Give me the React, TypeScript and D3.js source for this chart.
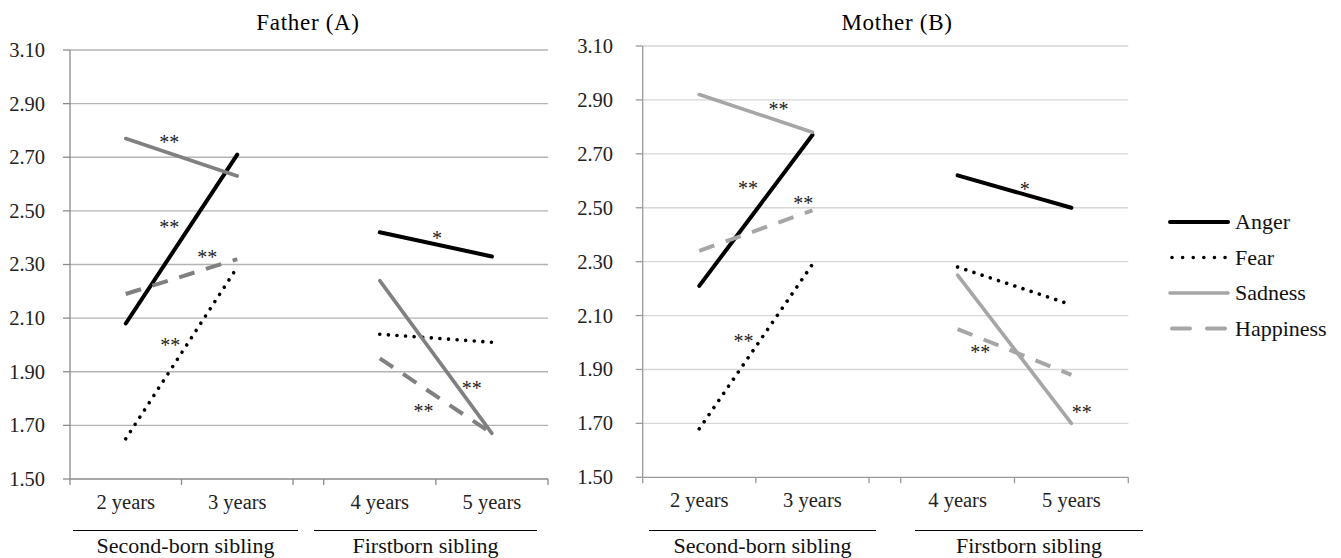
import React from "react";
import * as d3 from "d3";

// ---------- data ----------
const categories = ["2 years", "3 years", "4 years", "5 years"];
const groupLabels = ["Second-born sibling", "Firstborn sibling"];
const seriesNames = ["Anger", "Fear", "Sadness", "Happiness"];
const yTicks = [1.5, 1.7, 1.9, 2.1, 2.3, 2.5, 2.7, 2.9, 3.1];
const panelTitles = ["Father (A)", "Mother (B)"];

const fatherAnger = [2.08, 2.71, 2.42, 2.33];
const fatherFear = [1.65, 2.29, 2.04, 2.01];
const fatherSadness = [2.77, 2.63, 2.24, 1.67];
const fatherHappiness = [2.19, 2.32, 1.95, 1.67];

const motherAnger = [2.21, 2.77, 2.62, 2.5];
const motherFear = [1.68, 2.29, 2.28, 2.14];
const motherSadness = [2.92, 2.78, 2.25, 1.7];
const motherHappiness = [2.34, 2.49, 2.05, 1.88];

// significance marks: [group, position between the two ages (0..1), value, label]
const fatherMarks: [number, number, number, string][] = [
  [0, 0.39, 2.764, "**"],
  [0, 0.39, 2.447, "**"],
  [0, 0.73, 2.335, "**"],
  [0, 0.4, 2.007, "**"],
  [1, 0.51, 2.406, "*"],
  [1, 0.82, 1.847, "**"],
  [1, 0.39, 1.761, "**"],
];
const motherMarks: [number, number, number, string][] = [
  [0, 0.7, 2.874, "**"],
  [0, 0.43, 2.581, "**"],
  [0, 0.92, 2.525, "**"],
  [0, 0.39, 2.013, "**"],
  [1, 0.59, 2.577, "*"],
  [1, 0.2, 1.972, "**"],
  [1, 1.09, 1.75, "**"],
];

// ---------- layout / style ----------
const W = 1341;
const H = 558;
const FONT = "Liberation Serif";
const CSS = `svg text { font-family: "Liberation Serif", Tinos, "Times New Roman", serif; }`;

const panels = [
  {
    title: panelTitles[0],
    series: [fatherAnger, fatherFear, fatherSadness, fatherHappiness],
    marks: fatherMarks,
    groups: [[70, 293], [323.7, 548]],
    yTop: 50,
    yBottom: 479,
    labelRight: 45,
    titleX: 308,
    groupLines: [[73, 298], [314, 537]],
    grid: "#b4b4b4",
    axis: "#8a8a8a",
    gray: "#808080",
  },
  {
    title: panelTitles[1],
    series: [motherAnger, motherFear, motherSadness, motherHappiness],
    marks: motherMarks,
    groups: [[642.7, 869], [900.7, 1128.3]],
    yTop: 46,
    yBottom: 477.3,
    labelRight: 613,
    titleX: 897,
    groupLines: [[649, 876], [915, 1143]],
    grid: "#d6d6d6",
    axis: "#9a9a9a",
    gray: "#a6a6a6",
  },
];

function seriesStyle(i: number, gray: string) {
  if (i === 0) return { stroke: "#000", strokeWidth: 4, dash: undefined, cap: "round" };
  if (i === 1) return { stroke: "#000", strokeWidth: 3.6, dash: "0.01 8.6", cap: "round" };
  if (i === 2) return { stroke: gray, strokeWidth: 3.6, dash: undefined, cap: "round" };
  return { stroke: gray, strokeWidth: 4, dash: "16 12", cap: "butt" };
}

function Panel({ p }: { p: (typeof panels)[number] }) {
  const y = d3.scaleLinear().domain([1.5, 3.1]).range([p.yBottom, p.yTop]);
  const bands = p.groups.map((g, gi) =>
    d3
      .scaleBand<string>()
      .domain(categories.slice(gi * 2, gi * 2 + 2))
      .range(g as [number, number])
      .padding(0)
  );
  const xCat = (ci: number) => {
    const b = bands[Math.floor(ci / 2)];
    return (b(categories[ci]) as number) + b.bandwidth() / 2;
  };
  const x0 = p.groups[0][0];
  const x1 = p.groups[1][1];
  const line = d3
    .line<[number, number]>()
    .x((d) => d[0])
    .y((d) => d[1]);

  const xTicks: number[] = [];
  p.groups.forEach((g) => {
    xTicks.push(g[0], (g[0] + g[1]) / 2, g[1]);
  });

  return (
    <g>
      <text
        x={p.titleX}
        y={30}
        textAnchor="middle"
        fontSize={23}
        letterSpacing={0.7}
        fontFamily={FONT}
        fill="#000"
      >
        {p.title}
      </text>
      {yTicks.map((t) => (
        <g key={t}>
          {t > 1.5 && (
            <line x1={x0} x2={x1} y1={y(t)} y2={y(t)} stroke={p.grid} strokeWidth={1.3} />
          )}
          <line x1={x0 - 7} x2={x0} y1={y(t)} y2={y(t)} stroke={p.axis} strokeWidth={1.3} />
          <text
            x={p.labelRight}
            y={y(t)}
            dy="0.34em"
            textAnchor="end"
            fontSize={20.5}
            fontFamily={FONT}
            fill="#222"
          >
            {d3.format(".2f")(t)}
          </text>
        </g>
      ))}
      <line x1={x0} x2={x0} y1={p.yTop} y2={p.yBottom} stroke={p.axis} strokeWidth={1.3} />
      <line x1={x0} x2={x1} y1={p.yBottom} y2={p.yBottom} stroke={p.axis} strokeWidth={1.3} />
      {xTicks.map((t, i) => (
        <line key={i} x1={t} x2={t} y1={p.yBottom} y2={p.yBottom + 6} stroke={p.axis} strokeWidth={1.3} />
      ))}
      {categories.map((c, ci) => (
        <text
          key={c}
          x={xCat(ci)}
          y={p.yBottom + 30}
          textAnchor="middle"
          fontSize={20.5}
          fontFamily={FONT}
          fill="#222"
        >
          {c}
        </text>
      ))}
      {groupLabels.map((g, gi) => (
        <g key={g}>
          <line
            x1={p.groupLines[gi][0]}
            x2={p.groupLines[gi][1]}
            y1={530.5}
            y2={530.5}
            stroke="#000"
            strokeWidth={1.2}
          />
          <text
            x={(p.groupLines[gi][0] + p.groupLines[gi][1]) / 2}
            y={553}
            textAnchor="middle"
            fontSize={22}
            fontFamily={FONT}
            fill="#111"
          >
            {g}
          </text>
        </g>
      ))}
      {p.series.map((vals, si) => {
        const st = seriesStyle(si, p.gray);
        return [0, 1].map((gi) => {
          const pts: [number, number][] = [gi * 2, gi * 2 + 1].map((ci) => [xCat(ci), y(vals[ci])]);
          return (
            <path
              key={si + "-" + gi}
              d={line(pts) as string}
              fill="none"
              stroke={st.stroke}
              strokeWidth={st.strokeWidth}
              strokeDasharray={st.dash}
              strokeLinecap={st.cap as any}
            />
          );
        });
      })}
      {p.marks.map((m, i) => {
        const [gi, t, v, label] = m;
        const xa = xCat(gi * 2);
        const xb = xCat(gi * 2 + 1);
        return (
          <text
            key={i}
            x={xa + (xb - xa) * t}
            y={y(v) + 9}
            textAnchor="middle"
            fontSize={20}
            fontFamily={FONT}
            fill="#222"
          >
            {label}
          </text>
        );
      })}
    </g>
  );
}

function Legend() {
  const rows = d3.range(seriesNames.length).map((i) => 222 + i * 35.5);
  return (
    <g>
      {seriesNames.map((s, i) => {
        const st = seriesStyle(i, "#a6a6a6");
        const isFear = i === 1;
        const isHappy = i === 3;
        return (
          <g key={s}>
            <line
              x1={isFear ? 1172 : isHappy ? 1172 : 1170}
              x2={isFear ? 1226 : isHappy ? 1226 : 1228}
              y1={rows[i]}
              y2={rows[i]}
              stroke={st.stroke}
              strokeWidth={st.strokeWidth}
              strokeDasharray={isFear ? "0.01 10.6" : isHappy ? "18 17" : undefined}
              strokeLinecap={isHappy ? "round" : (st.cap as any)}
            />
            <text x={1235} y={rows[i]} dy="0.34em" fontSize={22} fontFamily={FONT} fill="#111">
              {s}
            </text>
          </g>
        );
      })}
    </g>
  );
}

export default function App() {
  return (
    <svg
      width={W}
      height={H}
      viewBox={`0 0 ${W} ${H}`}
      style={{ position: "absolute", left: 0, top: 0, background: "#fff" }}
    >
      <style>{CSS}</style>
      <rect width={W} height={H} fill="#fff" />
      {panels.map((p, i) => (
        <Panel key={i} p={p} />
      ))}
      <Legend />
    </svg>
  );
}
